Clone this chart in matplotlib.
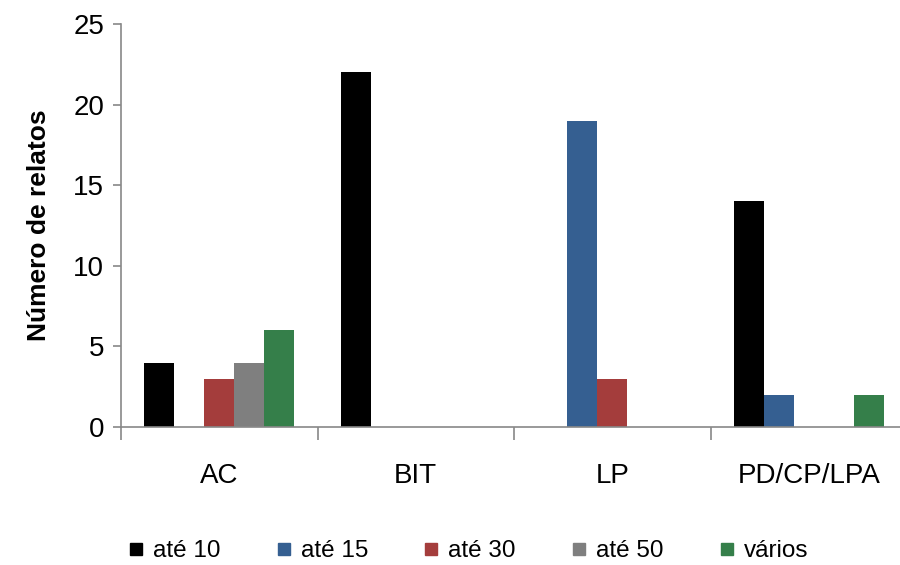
import numpy as np
import matplotlib
matplotlib.use("Agg")
import matplotlib.pyplot as plt
from matplotlib.lines import Line2D

# Dados
categorias = ["AC", "BIT", "LP", "PD/CP/LPA"]
series = ["até 10", "até 15", "até 30", "até 50", "vários"]
ate10 = [4, 22, 0, 14]
ate15 = [0, 0, 19, 2]
ate30 = [3, 0, 3, 0]
ate50 = [4, 0, 0, 0]
varios = [6, 0, 0, 2]
yticks = [0, 5, 10, 15, 20, 25]

valores = [ate10, ate15, ate30, ate50, varios]
cores = ["#000000", "#355F91", "#A43D3C", "#7F7F7F", "#357F4A"]

plt.rcParams["font.family"] = ["Liberation Sans", "DejaVu Sans"]

fig = plt.figure(figsize=(9, 5.65), dpi=100)
ax = fig.add_axes([121 / 900, 138 / 565, 786 / 900, 403 / 565])

x = np.arange(len(categorias))
larg = 0.153
for i, (nome, vals, cor) in enumerate(zip(series, valores, cores)):
    ax.bar(x + (i - 2) * larg, vals, width=larg, color=cor, label=nome, zorder=2)

ax.set_xlim(-0.5, len(categorias) - 0.5)
ax.set_ylim(0, 25)
ax.set_yticks(yticks)
ax.set_yticklabels([str(v) for v in yticks], fontsize=20)

ax.set_xticks(x)
ax.set_xticklabels(categorias, fontsize=20)
ax.set_xticks(np.arange(len(categorias) + 1) - 0.5, minor=True)
ax.tick_params(axis="x", which="major", length=0, pad=26)
ax.tick_params(axis="x", which="minor", length=9, width=1.2, color="#888888")
ax.tick_params(axis="y", which="major", length=6, width=1.2, color="#888888", pad=6)

for lado in ["top", "right"]:
    ax.spines[lado].set_visible(False)
for lado in ["left", "bottom"]:
    ax.spines[lado].set_color("#888888")
    ax.spines[lado].set_linewidth(1.2)

ax.set_ylabel("Número de relatos", fontsize=19, fontweight="bold", labelpad=16)

# Legenda com marcadores quadrados
marcas = [Line2D([0], [0], marker="s", color="none", markerfacecolor=c,
                 markeredgecolor=c, markersize=9) for c in cores]
fig.legend(marcas, series, loc="center", bbox_to_anchor=(0.519, 14 / 565),
           ncol=5, frameon=False, fontsize=17.5, handlelength=0.8, handletextpad=0.3,
           columnspacing=2.2)

fig.savefig("out.png", dpi=100)
